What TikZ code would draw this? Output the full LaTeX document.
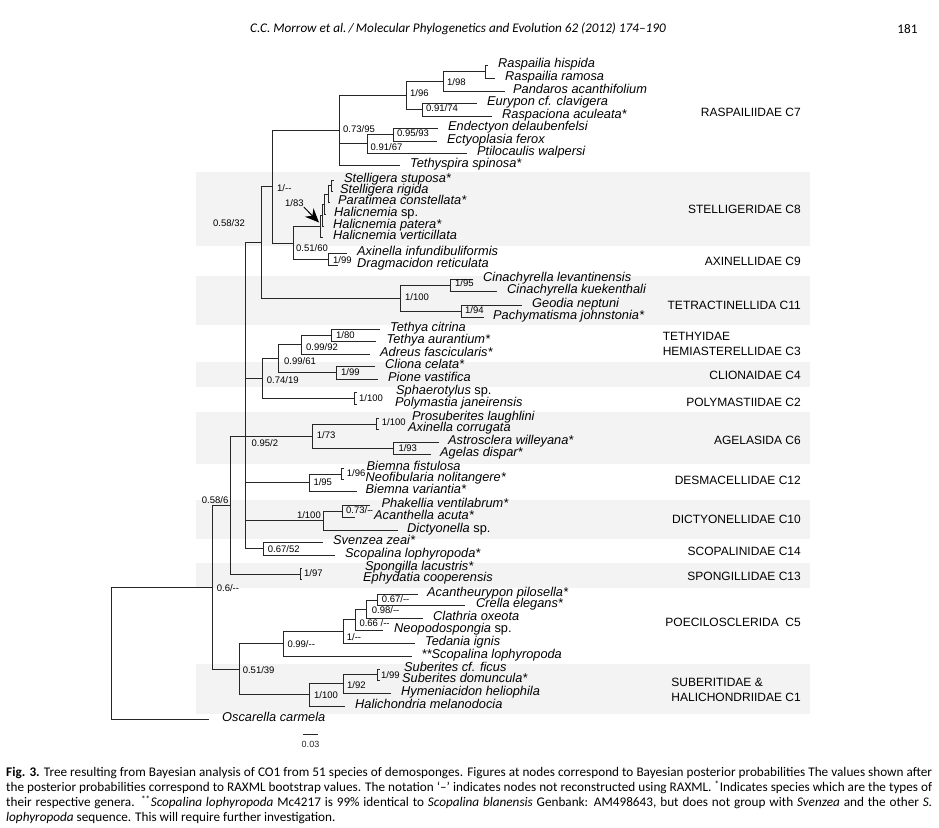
\documentclass[tikz,border=0pt]{standalone}
\usepackage{fontspec}
\setmainfont{Liberation Sans}
\newfontfamily\capfont{Carlito}
\usetikzlibrary{arrows.meta}
\definecolor{bandgray}{RGB}{243,243,243}

\begin{document}
\begin{tikzpicture}[x=1pt,y=-1pt,
  branch/.style={line width=0.9pt,black!85},
  taxon/.style={anchor=west,inner sep=0pt,text height=7pt,text depth=3pt,
    font=\fontsize{12.8}{14}\selectfont\itshape},
  support/.style={anchor=west,inner sep=0pt,text height=6.8pt,text depth=0pt,
    font=\fontsize{9.5}{11}\selectfont},
  clade/.style={anchor=east,inner sep=0pt,align=left,
    font=\fontsize{12}{15}\selectfont}
]
\useasboundingbox (0,0) rectangle (939,827);

% shaded clade bands
\foreach \ya/\yb in {171.7/245.7, 275.7/325, 362.3/386.7, 412.3/463.7,
  500/538.7, 563.3/587.7, 664.3/714.3}
  \fill[bandgray] (196,\ya) rectangle (810,\yb);

% taxa: branch end / text start / y
\foreach \nm/\bx/\tx/\y/\txt in {
  hisp/488/498/65/{Raspailia hispida},
  ramo/495/505/78/{Raspailia ramosa},
  pand/505/513/91/{Pandaros acanthifolium},
  eury/477/487/103/{Eurypon cf. clavigera},
  rasp/492/502/116/{Raspaciona aculeata*},
  ende/438/448/128/{Endectyon delaubenfelsi},
  ecty/437/447/141/{Ectyoplasia ferox},
  ptil/467/477/153/{Ptilocaulis walpersi},
  teth/400/410/165/{Tethyspira spinosa*},
  stup/334/344/180/{Stelligera stuposa*},
  rigi/333/340/191.5/{Stelligera rigida},
  para/330/338/202.5/{Paratimea constellata*},
  hsp/326/334/214.5/{Halicnemia \upshape sp.},
  pate/324/333/226.5/{Halicnemia patera*},
  vert/323/333/237.5/{Halicnemia verticillata},
  axin/347/357/253.5/{Axinella infundibuliformis},
  drag/338/357/265.5/{Dragmacidon reticulata},
  clev/473/483/279.5/{Cinachyrella levantinensis},
  ckue/497/507/291.5/{Cinachyrella kuekenthali},
  geod/522/532/305/{Geodia neptuni},
  pach/484/493/317/{Pachymatisma johnstonia*},
  tcit/380/390/329/{Tethya citrina},
  taur/376/386.5/341.5/{Tethya aurantium*},
  adre/370/380/354/{Adreus fascicularis*},
  clio/375/385/366.5/{Cliona celata*},
  pion/378/388/379/{Pione vastifica},
  spha/357/396/392.5/{Sphaerotylus \upshape sp.},
  poly/357/395/404.5/{Polymastia janeirensis},
  pros/379/412/418.5/{Prosuberites laughlini},
  acor/379/408/429.5/{Axinella corrugata},
  astr/439/448/442.5/{Astrosclera willeyana*},
  agel/431/440/454.5/{Agelas dispar*},
  bfis/344/366.5/468.5/{Biemna fistulosa},
  neof/344/365.5/479.5/{Neofibularia nolitangere*},
  bvar/357/365.5/491.5/{Biemna variantia*},
  phak/370/381.5/505/{Phakellia ventilabrum*},
  acan/355/374/517/{Acanthella acuta*},
  dict/398/407/530/{Dictyonella \upshape sp.},
  sven/323/333/542.5/{Svenzea zeai*},
  scop/335/345/555/{Scopalina lophyropoda*},
  spon/302/365/568.5/{Spongilla lacustris*},
  ephy/302/363/579.5/{Ephydatia cooperensis},
  apil/418/427/594.5/{Acantheurypon pilosella*},
  crel/465/476/605.5/{Crella elegans*},
  clat/423/433/618/{Clathria oxeota},
  neop/383/394/630/{Neopodospongia \upshape sp.},
  teda/415/425/643/{Tedania ignis},
  scol/412/421.5/656/{**Scopalina lophyropoda},
  sfic/380/404/669/{Suberites cf. ficus},
  sdom/380/402/680.5/{Suberites domuncula*},
  hyme/391/401/693/{Hymeniacidon heliophila},
  hali/345/355/706/{Halichondria melanodocia},
  osca/209/222/719/{Oscarella carmela}}
{
  \coordinate (\nm) at (\bx,\y);
  \node[taxon] (t\nm) at (\tx,\y) {\txt};
}

% inner nodes
\foreach \nm/\x/\y in {nR1/485/71.5, n198/443/81.3, n9174/422/109.5,
  n196/406/95.4, n9593/393/134.5, n9167/367/143.8, n7395/339/130.2,
  nS1/331/185.8, nS2/328/194.1, nS3/324.5/204.3, nS4/322/215.4,
  nS5/320/226.5, n199a/328.5/259.5, n5160/293.5/243, n1dd/272.5/186.6,
  n195/450/285.5, n194/461.7/311, n1100t/400/298.3, n5832/261.7/242.4,
  n180/331.7/335.3, n9992/301/344.6, n199c/336.7/372.8, n9961/278.3/358.7,
  n1100p/354/398.5, n7419/262.7/378.6, n1100a/376.7/424, n193/393.3/448.5,
  n173/312.3/436.3, n196b/341.7/474, n195b/309/482.8, n073/342.7/511,
  n1100d/323.3/520.5, n6752/263.3/548.8, n952/245.7/436.3, n197/300/574,
  n586/230/505.1, n067/377.7/600, n098/366.7/609, n066/355/619.5,
  n1d/343.3/631.3, n099/283.3/643.6, n199s/377.6/674.8, n192/343.4/683.9,
  n1100s/309.6/694.9, n5139/239/669.3, n06/212.7/587.2, root/111/653}
  \coordinate (\nm) at (\x,\y);

% branches
\foreach \p/\c in {nR1/hisp, nR1/ramo, n198/nR1, n198/pand, n9174/eury,
  n9174/rasp, n196/n198, n196/n9174, n9593/ende, n9593/ecty, n9167/n9593,
  n9167/ptil, n7395/n196, n7395/n9167, n7395/teth,
  nS1/stup, nS1/rigi, nS2/nS1, nS2/para, nS3/nS2, nS3/hsp, nS4/nS3,
  nS4/pate, nS5/nS4, nS5/vert, n199a/axin, n199a/drag, n5160/nS5,
  n5160/n199a, n1dd/n7395, n1dd/n5160,
  n195/clev, n195/ckue, n194/geod, n194/pach, n1100t/n195, n1100t/n194,
  n5832/n1dd, n5832/n1100t,
  n180/tcit, n180/taur, n9992/n180, n9992/adre, n199c/clio, n199c/pion,
  n9961/n9992, n9961/n199c, n1100p/spha, n1100p/poly, n7419/n9961,
  n7419/n1100p,
  n1100a/pros, n1100a/acor, n193/astr, n193/agel, n173/n1100a, n173/n193,
  n196b/bfis, n196b/neof, n195b/n196b, n195b/bvar, n073/phak, n073/acan,
  n1100d/n073, n1100d/dict, n6752/sven, n6752/scop,
  n952/n5832, n952/n7419, n952/n173, n952/n195b, n952/n1100d, n952/n6752,
  n197/spon, n197/ephy, n586/n952, n586/n197,
  n067/apil, n067/crel, n098/n067, n098/clat, n066/n098, n066/neop,
  n1d/n066, n1d/teda, n099/n1d, n099/scol, n199s/sfic, n199s/sdom,
  n192/n199s, n192/hyme, n1100s/n192, n1100s/hali, n5139/n099,
  n5139/n1100s, n06/n586, n06/n5139, root/n06, root/osca}
  \draw[branch] (\p) |- (\c);

% posterior / bootstrap values
\node[support] (l198) at (447,82) {1/98};
\node[support] (l9174) at (426,108) {0.91/74};
\node[support] (l196) at (410,93) {1/96};
\node[support] (l9593) at (397,133) {0.95/93};
\node[support] (l9167) at (370.5,147) {0.91/67};
\node[support] (l7395) at (343,129) {0.73/95};
\node[support] (l1dd) at (277,188) {1/{-}{-}};
\node[support] (l183) at (285,203.5) {1/83};
\node[support] (l5160) at (296,248) {0.51/60};
\node[support] (l199a) at (333,260) {1/99};
\node[support,anchor=center] (l5832) at (229,223) {0.58/32};
\node[support] (l195) at (455,283.5) {1/95};
\node[support] (l1100t) at (405,297) {1/100};
\node[support] (l194) at (465,310) {1/94};
\node[support] (l180) at (336,335) {1/80};
\node[support] (l9992) at (306,346.7) {0.99/92};
\node[support] (l9961) at (284,361) {0.99/61};
\node[support] (l199c) at (341,372.3) {1/99};
\node[support] (l7419) at (266.7,380) {0.74/19};
\node[support] (l1100p) at (359,398) {1/100};
\node[support] (l1100a) at (381.7,421.7) {1/100};
\node[support] (l173) at (316.7,435) {1/73};
\node[support] (l952) at (251.5,442.7) {0.95/2};
\node[support] (l193) at (398.3,447.7) {1/93};
\node[support] (l196b) at (346.7,472.7) {1/96};
\node[support] (l195b) at (313.3,481.7) {1/95};
\node[support,anchor=east] (l586) at (228.5,500) {0.58/6};
\node[support] (l073) at (346,510) {0.73/{-}\kern-0.6pt{-}};
\node[support,anchor=east] (l1100d) at (321,515) {1/100};
\node[support] (l6752) at (267.7,549) {0.67/52};
\node[support] (l197) at (304,573.3) {1/97};
\node[support] (l06) at (216.7,588.3) {0.6/{-}{-}};
\node[support] (l067) at (381.7,599) {0.67/{-}{-}};
\node[support] (l098) at (371.7,610) {0.98/{-}{-}};
\node[support] (l066) at (359.3,623.3) {0.66 /{-}{-}};
\node[support] (l1d) at (346.7,636.7) {1/{-}{-}};
\node[support] (l099) at (287.3,644.3) {0.99/{-}{-}};
\node[support] (l5139) at (242.6,670) {0.51/39};
\node[support] (l199s) at (381,675) {1/99};
\node[support] (l192) at (347,685) {1/92};
\node[support] (l1100s) at (314,695) {1/100};

\coordinate (arw) at (319,222.5);
\draw[line width=1pt,-{Stealth[length=14pt,width=12pt]}] (l183.south east) -- (arw);

% clade names
\foreach \y/\txt [count=\i] in {112.7/RASPAILIIDAE C7, 209.3/STELLIGERIDAE C8,
  261.7/AXINELLIDAE C9, 305/TETRACTINELLIDA C11, 375.7/CLIONAIDAE C4,
  402.3/POLYMASTIIDAE C2, 440/AGELASIDA C6, 480.7/DESMACELLIDAE C12,
  519.3/DICTYONELLIDAE C10, 551/SCOPALINIDAE C14, 576.7/SPONGILLIDAE C13,
  622.7/{POECILOSCLERIDA~~C5}}
  \node[clade] (clade\i) at (801,\y) {\txt};
\node[clade] (cteth) at (801,344) {TETHYIDAE\\HEMIASTERELLIDAE C3};
\node[clade] (csube) at (801,690) {SUBERITIDAE \&\\HALICHONDRIIDAE C1};

% scale bar
\coordinate (sbl) at (303,734);
\coordinate (sbr) at (318,734);
\draw[branch] (sbl) -- (sbr) node[midway,below=7pt,inner sep=0pt,
  font=\fontsize{9}{10}\selectfont] (sbt) {0.03};

% running head and caption
\node[font=\capfont\itshape\fontsize{13.2}{15}\selectfont] (head) at (458,29)
  {C.C. Morrow et al.\,/\,Molecular Phylogenetics and Evolution 62 (2012) 174–190};
\node[anchor=east,font=\capfont\fontsize{13.2}{15}\selectfont] (page) at (921,29) {181};
\node[anchor=north west,inner sep=0pt,text width=926pt,align=justify,
  font=\capfont\fontsize{13.2}{15}\selectfont] (cap) at (6,767)
  {\textbf{Fig. 3.} Tree resulting from Bayesian analysis of CO1 from 51 species of demosponges. Figures at nodes correspond to Bayesian posterior probabilities The values shown after\linebreak
  the posterior probabilities correspond to RAXML bootstrap values. The notation ‘–’ indicates nodes not reconstructed using RAXML. \textsuperscript{*}Indicates species which are the types of\linebreak
  their respective genera. \textsuperscript{**}\textit{Scopalina lophyropoda} Mc4217 is 99\% identical to \textit{Scopalina blanensis} Genbank: AM498643, but does not group with \textit{Svenzea} and the other \textit{S.}\linebreak
  \textit{lophyropoda} sequence. This will require further investigation.};
\end{tikzpicture}
\end{document}
